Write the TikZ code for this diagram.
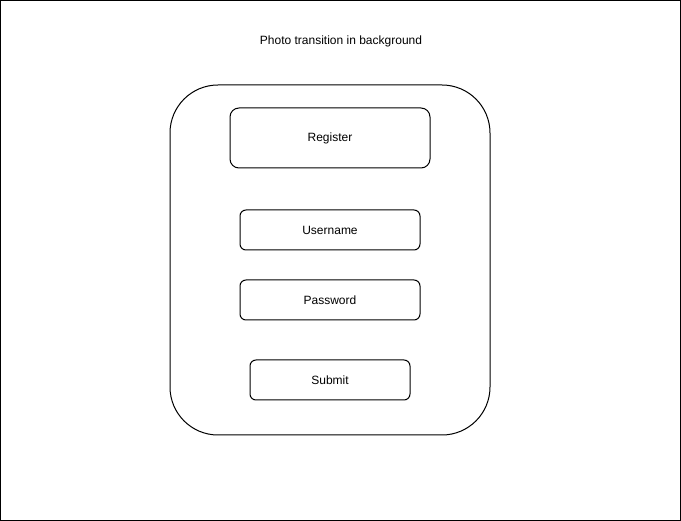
\documentclass[tikz,border=0pt]{standalone}
\usepackage{fontspec}
\setmainfont{Liberation Sans}
\usetikzlibrary {positioning}

\begin{document}
\begin{tikzpicture}[x=1pt ,y=-1pt ,
line width =1pt ,
panel/.style ={ rectangle ,rounded corners =48pt ,draw ,
minimum width =320pt ,minimum height =350pt},
button/.style={rectangle ,rounded corners =6pt ,draw ,font=\fontsize{12}{14}\selectfont ,
minimum width =180pt ,minimum height =40pt}
]
    \useasboundingbox (0,0) rectangle (681,521);
    \draw (0.5,0.5) rectangle (680.5,520.5);
    \node[font=\fontsize{12}{14}\selectfont] (T) at (341,41) {Photo transition in background};
    \node[panel] (F) at (330,260) {};
    \node[button ,rounded corners =9pt ,minimum width =200pt ,minimum height =60pt] (R) at (330,138) {Register};
    \node[button] (U) at (330,230) {Username};
    \node[button] (P) [below = 70pt of U.center ,anchor=center] {Password};
    \node[button ,minimum width =160pt] (S) [below = 80pt of P.center ,anchor=center] {Submit};
\end{tikzpicture}
\end{document}
